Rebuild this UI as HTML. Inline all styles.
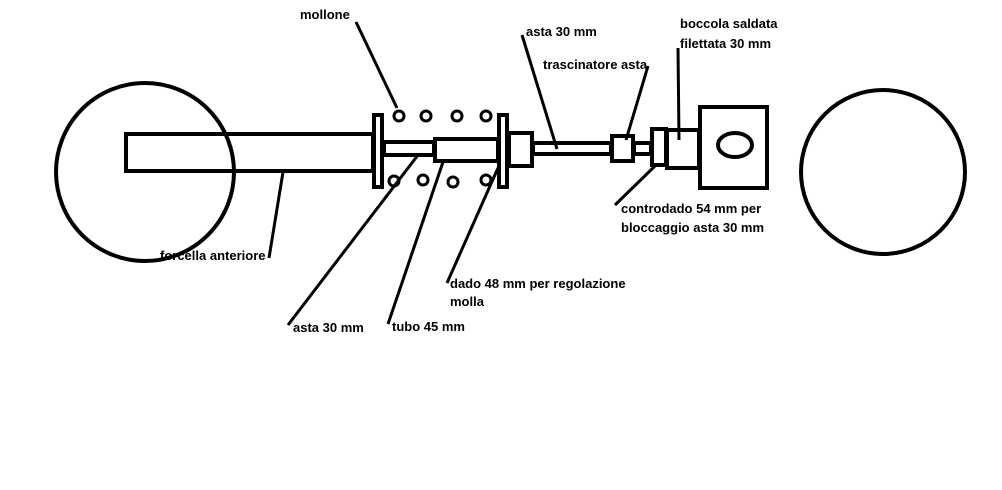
<!DOCTYPE html>
<html><head><meta charset="utf-8"><style>
html,body{margin:0;padding:0;background:#fff;}
svg{display:block;}
text{font-family:"Liberation Sans",sans-serif;font-weight:bold;font-size:13px;fill:#000;}
</style></head><body>
<svg width="1002" height="490" viewBox="0 0 1002 490" xmlns="http://www.w3.org/2000/svg">
<rect width="1002" height="490" fill="#fff"/>
<g fill="none" stroke="#000" stroke-width="4">
<circle cx="145" cy="172" r="89"/>
<circle cx="883" cy="172" r="82"/>
<rect x="126" y="134" width="247" height="37"/>
<rect x="374" y="115" width="8" height="72" fill="#fff"/>
<rect x="384" y="142" width="50" height="13"/>
<rect x="435" y="139" width="63" height="22" fill="#fff"/>
<rect x="499" y="115" width="8" height="72" fill="#fff"/>
<rect x="509" y="133" width="23" height="33" fill="#fff"/>
<rect x="533" y="143" width="78" height="11"/>
<rect x="612" y="136" width="21" height="25" fill="#fff"/>
<rect x="634" y="143" width="17" height="11"/>
<rect x="652" y="129" width="14" height="36" fill="#fff"/>
<rect x="667" y="130" width="32" height="38" fill="#fff"/>
<rect x="700" y="107" width="67" height="81" fill="#fff"/>
<ellipse cx="735" cy="145" rx="17" ry="12"/>
</g>
<g fill="none" stroke="#000" stroke-width="3">
<circle cx="399" cy="116" r="5"/>
<circle cx="426" cy="116" r="5"/>
<circle cx="457" cy="116" r="5"/>
<circle cx="486" cy="116" r="5"/>
<circle cx="394" cy="181" r="5"/>
<circle cx="423" cy="180" r="5"/>
<circle cx="453" cy="182" r="5"/>
<circle cx="486" cy="180" r="5"/>
</g>
<g stroke="#000" stroke-width="3">
<line x1="356" y1="22" x2="397" y2="108"/>
<line x1="522" y1="35" x2="557" y2="149"/>
<line x1="648" y1="66" x2="626" y2="140"/>
<line x1="678" y1="48" x2="679" y2="140"/>
<line x1="655" y1="166" x2="615" y2="205"/>
<line x1="498" y1="168" x2="447" y2="283"/>
<line x1="443" y1="162" x2="388" y2="324"/>
<line x1="418" y1="155" x2="288" y2="325"/>
<line x1="283" y1="172" x2="269" y2="258"/>
</g>
<text x="300" y="19">mollone</text>
<text x="526" y="36">asta 30 mm</text>
<text x="543" y="69">trascinatore asta</text>
<text x="680" y="28">boccola saldata</text>
<text x="680" y="48">filettata 30 mm</text>
<text x="160" y="260">forcella anteriore</text>
<text x="621" y="213">controdado 54 mm per</text>
<text x="621" y="232">bloccaggio asta 30 mm</text>
<text x="450" y="288">dado 48 mm per regolazione</text>
<text x="450" y="306">molla</text>
<text x="293" y="332">asta 30 mm</text>
<text x="392" y="331">tubo 45 mm</text>
</svg>
</body></html>
